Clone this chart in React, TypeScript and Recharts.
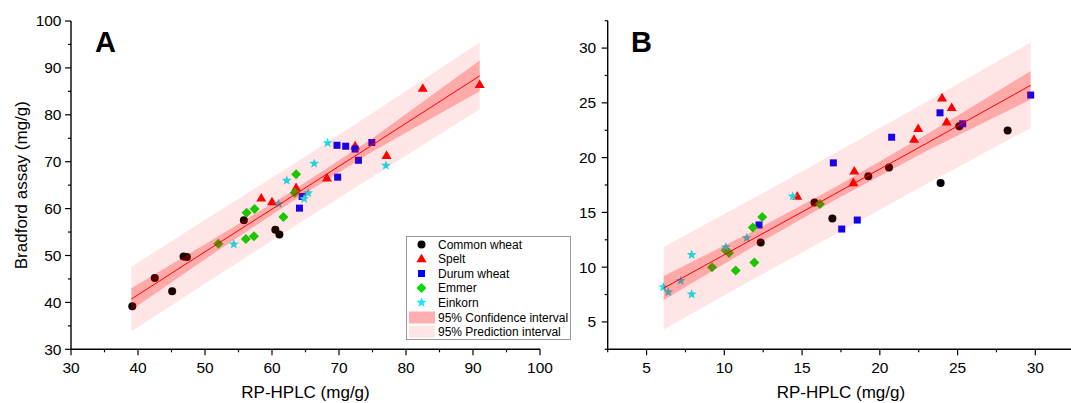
import React from 'react';
import { ComposedChart, XAxis, YAxis, Scatter, Area, Line } from 'recharts';

// ---------- Panel A data (RP-HPLC vs Bradford, mg/g) ----------
const commonA = [[39.15, 39.2], [42.5, 45.2], [45.1, 42.4], [46.8, 49.8], [47.3, 49.7], [55.8, 57.5], [60.5, 55.5], [61.1, 54.5]];
const speltA = [[58.4, 62.2], [60.0, 61.4], [63.6, 64.4], [68.2, 66.5], [72.4, 73.3], [77.1, 71.3], [82.5, 85.6], [91.0, 86.4]];
const durumA = [[64.1, 60.1], [64.5, 62.6], [69.8, 66.7], [69.7, 73.5], [71.0, 73.3], [72.4, 72.7], [72.9, 70.3], [74.9, 74.1]];
const emmerA = [[52.0, 52.5], [56.2, 59.1], [57.4, 59.9], [56.1, 53.5], [57.3, 54.1], [61.7, 58.2], [63.4, 63.4], [63.6, 67.3]];
const einkornA = [[54.3, 52.4], [61.0, 61.0], [62.2, 66.0], [65.4, 63.3], [64.8, 62.1], [66.3, 69.6], [68.3, 74.0], [77.0, 69.2]];

const bandXA = [39, 50, 62, 75, 91];
const fitA = [40.7, 50.8, 61.7, 73.6, 88.3];
const ciLowA = [38.4, 49.2, 60.6, 72.2, 85.0];
const ciHighA = [43.0, 52.4, 62.8, 75.0, 91.6];
const piLowA = [33.8, 44.0, 55.0, 66.8, 81.2];
const piHighA = [47.6, 57.6, 68.4, 80.4, 95.4];

// ---------- Panel B data ----------
const commonB = [[12.34, 12.25], [15.8, 15.9], [16.95, 14.45], [19.26, 18.29], [20.59, 19.1], [23.91, 17.69], [25.11, 22.87], [28.22, 22.47]];
const speltB = [[14.69, 16.46], [18.36, 18.75], [18.3, 17.69], [22.2, 21.65], [22.47, 22.63], [24.0, 25.43], [24.62, 24.55], [24.3, 23.23]];
const durumB = [[12.23, 13.85], [17.01, 19.52], [17.55, 13.48], [18.55, 14.3], [20.76, 21.86], [23.87, 24.09], [25.33, 23.09], [29.7, 25.71]];
const emmerB = [[9.21, 10.0], [10.09, 11.55], [10.3, 11.3], [10.73, 9.69], [11.93, 10.42], [11.83, 13.63], [12.44, 14.58], [16.15, 15.77]];
const einkornB = [[6.08, 8.17], [6.4, 7.72], [7.19, 8.75], [7.9, 11.13], [7.9, 7.53], [10.09, 11.83], [11.44, 12.66], [14.4, 16.46]];

const bandXB = [6.1, 12, 17, 23, 29.7];
const fitB = [8.08, 12.7, 16.6, 21.3, 26.6];
const ciLowB = [7.0, 12.0, 16.05, 20.6, 25.3];
const ciHighB = [9.2, 13.4, 17.2, 22.1, 27.9];
const piLowB = [4.3, 9.0, 12.9, 17.6, 22.7];
const piHighB = [11.85, 16.4, 20.3, 25.1, 30.5];

// ---------- Axis ticks ----------
const ticksA = [30, 35, 40, 45, 50, 55, 60, 65, 70, 75, 80, 85, 90, 95, 100];
const ticksB = [2.5, 5, 7.5, 10, 12.5, 15, 17.5, 20, 22.5, 25, 27.5, 30, 32.5];

const seriesNames = ['Common wheat', 'Spelt', 'Durum wheat', 'Emmer', 'Einkorn'];
const ciName = '95% Confidence interval';
const piName = '95% Prediction interval';

const COLORS = { common: '#000000', spelt: '#ff0000', durum: '#0000ff', emmer: '#00dd00', einkorn: '#10e8f2' };
const FONT = 'Arial, "Liberation Sans", Helvetica, sans-serif';

const toPts = (arr: number[][]) => arr.map(([x, y]) => ({ x, y }));
const bandRows = (xs: number[], fit: number[], cl: number[], ch: number[], pl: number[], ph: number[]) =>
  xs.map((x, i) => ({ x, fit: fit[i], ci: [cl[i], ch[i]], pi: [pl[i], ph[i]] }));

// ---------- marker shapes ----------
const CircleShape = (p: any) => <circle cx={p.cx} cy={p.cy} r={4} fill={COLORS.common} />;
const TriShape = (p: any) => {
  const s = 10, h = s * 0.866;
  return <path d={`M${p.cx},${p.cy - h * 0.62}L${p.cx + s / 2},${p.cy + h * 0.38}L${p.cx - s / 2},${p.cy + h * 0.38}Z`} fill={COLORS.spelt} />;
};
const SquareShape = (p: any) => <rect x={p.cx - 3.5} y={p.cy - 3.5} width={7} height={7} fill={COLORS.durum} />;
const DiamondShape = (p: any) => {
  const r = 5;
  return <path d={`M${p.cx},${p.cy - r}L${p.cx + r},${p.cy}L${p.cx},${p.cy + r}L${p.cx - r},${p.cy}Z`} fill={COLORS.emmer} />;
};
const starPath = (cx: number, cy: number, R: number) => {
  const r = R * 0.42;
  let d = '';
  for (let i = 0; i < 10; i++) {
    const rad = i % 2 === 0 ? R : r;
    const a = -Math.PI / 2 + (i * Math.PI) / 5;
    d += (i === 0 ? 'M' : 'L') + (cx + rad * Math.cos(a)).toFixed(2) + ',' + (cy + rad * Math.sin(a)).toFixed(2);
  }
  return d + 'Z';
};
const StarShape = (p: any) => <path d={starPath(p.cx, p.cy, 5.2)} fill={COLORS.einkorn} />;

// ---------- custom ticks ----------
const makeXTick = (isMajor: (v: number) => boolean) => (props: any) => {
  const { x, y, payload } = props;
  const v = payload.value;
  const major = isMajor(v);
  return (
    <g>
      <line x1={x} x2={x} y1={y} y2={y + (major ? 6 : 3)} stroke="#000" strokeWidth={1.2} />
      {major && (
        <text x={x} y={y + 24} textAnchor="middle" fontSize={15.5} fontFamily={FONT} fill="#000">{v}</text>
      )}
    </g>
  );
};
const makeYTick = (isMajor: (v: number) => boolean, gap: number) => (props: any) => {
  const { x, y, payload } = props;
  const v = payload.value;
  const major = isMajor(v);
  return (
    <g>
      <line x1={x} x2={x - (major ? 6 : 3)} y1={y} y2={y} stroke="#000" strokeWidth={1.2} />
      {major && (
        <text x={x - gap} y={y + 5.4} textAnchor="end" fontSize={15.5} fontFamily={FONT} fill="#000">{v}</text>
      )}
    </g>
  );
};

const XLabel = (props: any) => {
  const vb = props.viewBox;
  return (
    <text x={vb.x + vb.width / 2} y={vb.y + 49} textAnchor="middle" fontSize={17} fontFamily={FONT} fill="#000">
      RP-HPLC (mg/g)
    </text>
  );
};
const YLabel = (props: any) => {
  const vb = props.viewBox;
  const cx = vb.x + vb.width - 44;
  const cy = vb.y + vb.height / 2;
  return (
    <text x={cx} y={cy} transform={`rotate(-90 ${cx} ${cy})`} textAnchor="middle" fontSize={17} fontFamily={FONT} fill="#000">
      Bradford assay (mg/g)
    </text>
  );
};

type PanelProps = {
  width: number;
  margin: { top: number; right: number; bottom: number; left: number };
  domain: [number, number];
  ticks: number[];
  isMajor: (v: number) => boolean;
  yGap: number;
  bands: any[];
  common: number[][];
  spelt: number[][];
  durum: number[][];
  emmer: number[][];
  einkorn: number[][];
  showYLabel: boolean;
};

const Panel = (p: PanelProps) => (
  <ComposedChart width={p.width} height={403} data={p.bands} margin={p.margin}>
    <XAxis
      type="number"
      dataKey="x"
      domain={p.domain}
      ticks={p.ticks}
      allowDataOverflow
      height={1}
      tickSize={0}
      tickMargin={0}
      tickLine={false}
      interval={0}
      axisLine={{ stroke: '#000', strokeWidth: 1.4 }}
      tick={makeXTick(p.isMajor)}
      label={<XLabel />}
    />
    <YAxis
      type="number"
      domain={p.domain}
      ticks={p.ticks}
      allowDataOverflow
      width={1}
      tickSize={0}
      tickMargin={0}
      tickLine={false}
      interval={0}
      axisLine={{ stroke: '#000', strokeWidth: 1.4 }}
      tick={makeYTick(p.isMajor, p.yGap)}
      label={p.showYLabel ? <YLabel /> : undefined}
    />
    <Scatter name={seriesNames[0]} data={toPts(p.common)} dataKey="y" shape={CircleShape} isAnimationActive={false} legendType="none" />
    <Scatter name={seriesNames[1]} data={toPts(p.spelt)} dataKey="y" shape={TriShape} isAnimationActive={false} legendType="none" />
    <Scatter name={seriesNames[2]} data={toPts(p.durum)} dataKey="y" shape={SquareShape} isAnimationActive={false} legendType="none" />
    <Scatter name={seriesNames[3]} data={toPts(p.emmer)} dataKey="y" shape={DiamondShape} isAnimationActive={false} legendType="none" />
    <Scatter name={seriesNames[4]} data={toPts(p.einkorn)} dataKey="y" shape={StarShape} isAnimationActive={false} legendType="none" />
    <Area name={piName} dataKey="pi" type="linear" stroke="none" fill="#ff0000" fillOpacity={0.1} isAnimationActive={false} legendType="none" activeDot={false} {...({ zIndex: 700 } as any)} />
    <Area name={ciName} dataKey="ci" type="linear" stroke="none" fill="#ff0000" fillOpacity={0.26} isAnimationActive={false} legendType="none" activeDot={false} {...({ zIndex: 710 } as any)} />
    <Line dataKey="fit" type="linear" stroke="#ff0000" strokeWidth={1} dot={false} activeDot={false} isAnimationActive={false} legendType="none" {...({ zIndex: 720 } as any)} />
  </ComposedChart>
);

const legendRows = [
  { name: seriesNames[0], shape: CircleShape },
  { name: seriesNames[1], shape: TriShape },
  { name: seriesNames[2], shape: SquareShape },
  { name: seriesNames[3], shape: DiamondShape },
  { name: seriesNames[4], shape: StarShape },
];

const Overlay = () => (
  <svg width={1071} height={403} style={{ position: 'absolute', left: 0, top: 0, pointerEvents: 'none' }}>
    <text x={95} y={52} fontSize={29} fontWeight="bold" fontFamily={FONT} fill="#000">A</text>
    <text x={631} y={52} fontSize={29} fontWeight="bold" fontFamily={FONT} fill="#000">B</text>
    <rect x={406.5} y={236.5} width={164} height={103} fill="#fff" stroke="#999" strokeWidth={1} />
    {legendRows.map((r, i) => {
      const cy = 244.5 + i * 14.5;
      const S = r.shape;
      return (
        <g key={r.name}>
          <S cx={421.5} cy={cy} />
          <text x={438} y={cy + 4.3} fontSize={12} fontFamily={FONT} fill="#000">{r.name}</text>
        </g>
      );
    })}
    <rect x={409} y={311.5} width={26} height={12} fill="#ffafaf" />
    <text x={438} y={321.8} fontSize={12} fontFamily={FONT} fill="#000">{ciName}</text>
    <rect x={409} y={325.8} width={26} height={12} fill="#ffe6e6" />
    <text x={438} y={336.3} fontSize={12} fontFamily={FONT} fill="#000">{piName}</text>
  </svg>
);

export default function App() {
  const bandsA = bandRows(bandXA, fitA, ciLowA, ciHighA, piLowA, piHighA);
  const bandsB = bandRows(bandXB, fitB, ciLowB, ciHighB, piLowB, piHighB);
  return (
    <div style={{ position: 'fixed', left: 0, top: 0, width: 1071, height: 403, overflow: 'hidden', background: '#fff', fontFamily: FONT }}>
      <div style={{ position: 'absolute', left: 0, top: 0 }}>
        <Panel
          width={560}
          margin={{ top: 21, right: 20, bottom: 52.7, left: 70 }}
          domain={[30, 100]}
          ticks={ticksA}
          isMajor={(v) => v % 10 === 0}
          yGap={9.5}
          bands={bandsA}
          common={commonA}
          spelt={speltA}
          durum={durumA}
          emmer={emmerA}
          einkorn={einkornA}
          showYLabel
        />
      </div>
      <div style={{ position: 'absolute', left: 560, top: 0 }}>
        <Panel
          width={540}
          margin={{ top: 20.7, right: 25.8, bottom: 52.7, left: 46.7 }}
          domain={[2.5, 32.5]}
          ticks={ticksB}
          isMajor={(v) => v % 5 === 0}
          yGap={11.5}
          bands={bandsB}
          common={commonB}
          spelt={speltB}
          durum={durumB}
          emmer={emmerB}
          einkorn={einkornB}
          showYLabel={false}
        />
      </div>
      <Overlay />
    </div>
  );
}
